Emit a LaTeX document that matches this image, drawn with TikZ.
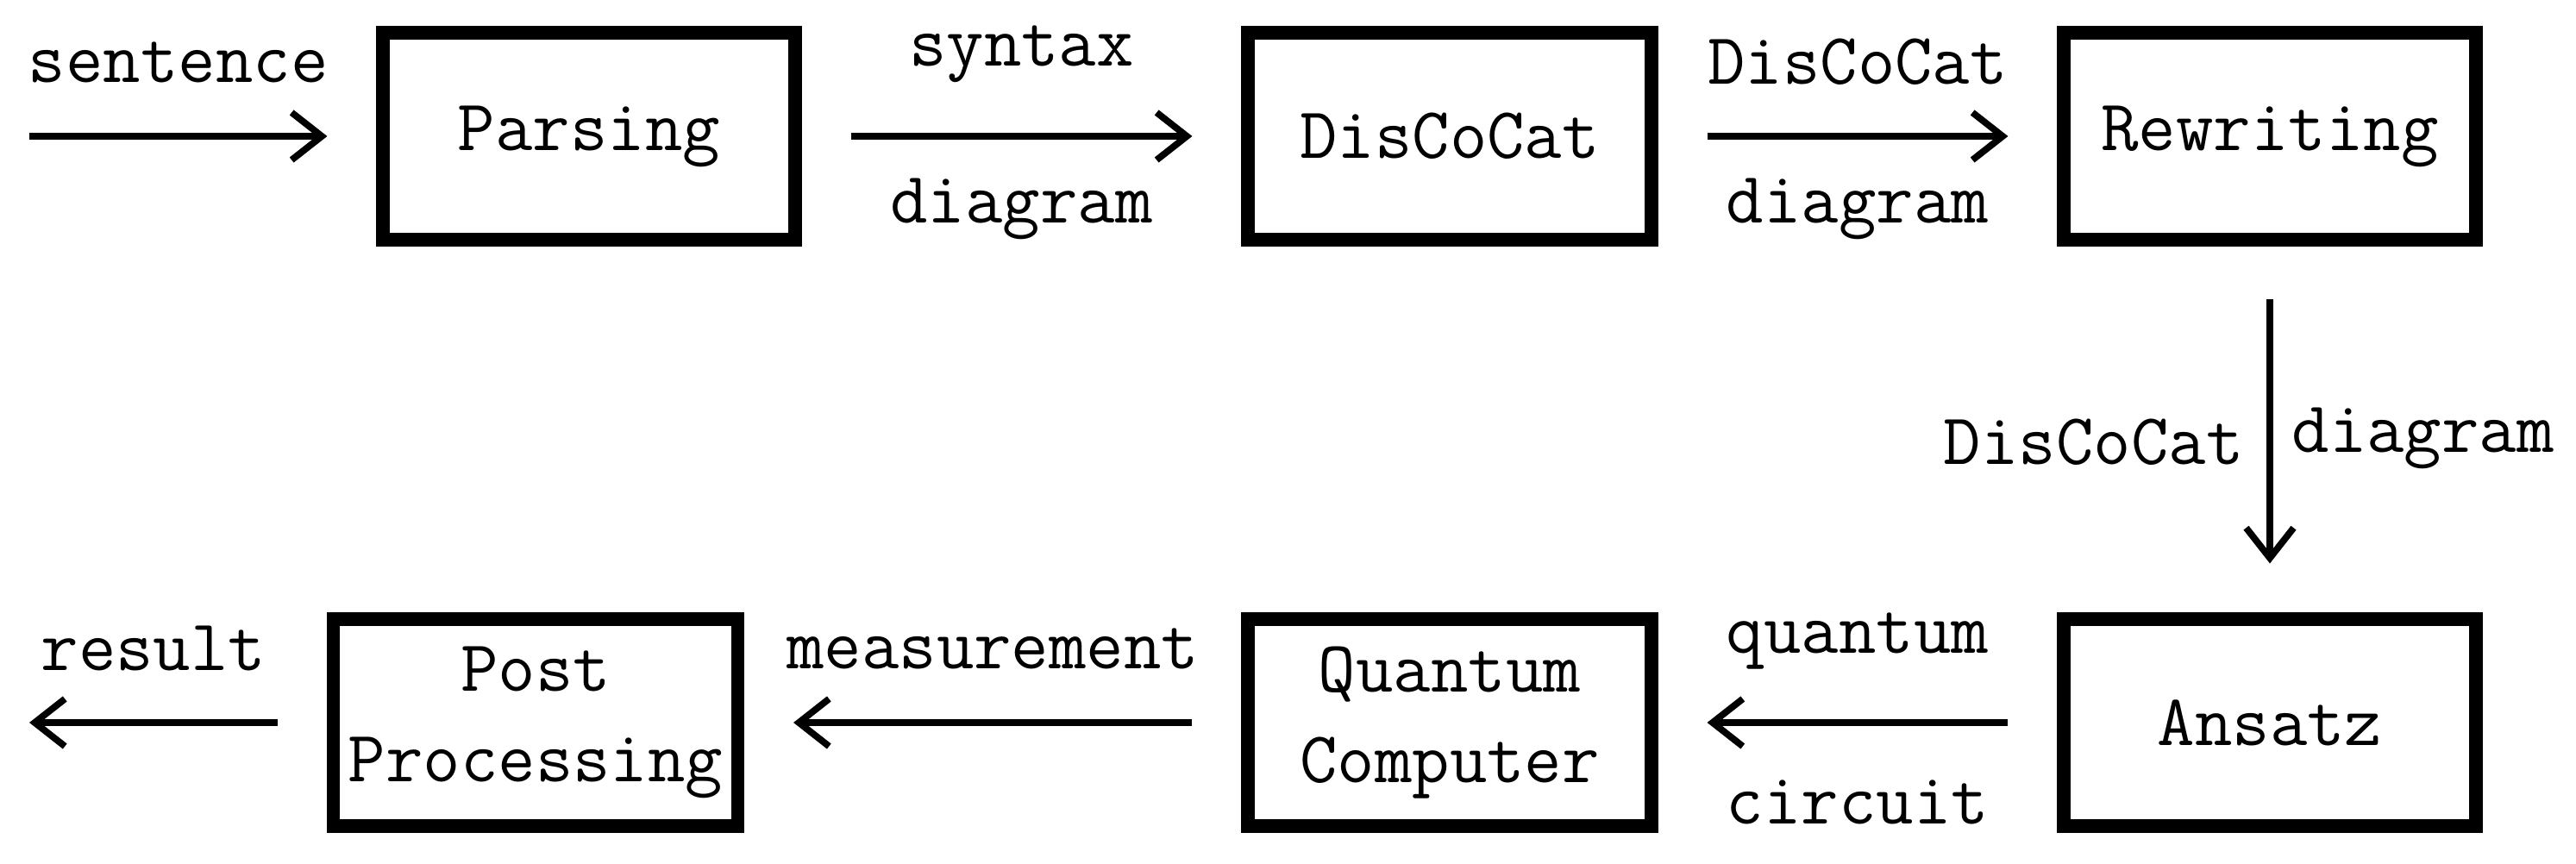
\documentclass[tikz,border=0pt]{standalone}
\usetikzlibrary{arrows.meta}
\begin{document}
\begin{tikzpicture}[
  box/.style={draw, line width=4.3pt, minimum height=2.4cm, align=center, font=\fontsize{24}{30}\selectfont\ttfamily},
  lab/.style={font=\fontsize{24}{30}\selectfont\ttfamily},
  arr/.style={line width=2.2pt, -{Straight Barb[length=0.35cm,width=0.55cm,line width=2.2pt]}, shorten >=0.57cm, shorten <=0.57cm}
]
\useasboundingbox (0,0) rectangle (29.87,10.01);
\node[box, minimum width=4.78cm] (p) at (6.83,8.43) {Parsing};
\node[box, minimum width=4.68cm] (d) at (16.81,8.43) {DisCoCat};
\node[box, minimum width=4.78cm] (r) at (26.32,8.43) {Rewriting};
\node[box, minimum width=4.78cm] (a) at (26.32,1.63) {Ansatz};
\node[box, minimum width=4.68cm] (q) at (16.81,1.63) {Quantum\\Computer};
\node[box, minimum width=4.69cm] (pp) at (6.21,1.63) {Post\\Processing};
\coordinate (s) at (-0.23,8.43);
\coordinate (e) at (-0.23,1.63);
\draw[arr] (s) -- (p) node[lab, midway, yshift=0.86cm] {sentence};
\draw[arr] (p) -- (d) node[lab, midway, yshift=0.95cm] {syntax} node[lab, midway, yshift=-0.84cm] {diagram};
\draw[arr] (d) -- (r) node[lab, midway, yshift=0.86cm] {DisCoCat} node[lab, midway, yshift=-0.84cm] {diagram};
\draw[arr, shorten <=0.61cm] (r) -- (a) node[lab, midway, anchor=east, xshift=-0.15cm, yshift=-0.15cm] {DisCoCat} node[lab, midway, anchor=west, xshift=0.1cm, yshift=-0.1cm] {diagram};
\draw[arr] (a) -- (q) node[lab, midway, yshift=0.95cm] {quantum} node[lab, midway, yshift=-0.92cm] {circuit};
\draw[arr] (q) -- (pp) node[lab, midway, yshift=0.86cm] {measurement};
\draw[arr] (pp) -- (e) node[lab, midway, yshift=0.86cm] {result};
\end{tikzpicture}
\end{document}
